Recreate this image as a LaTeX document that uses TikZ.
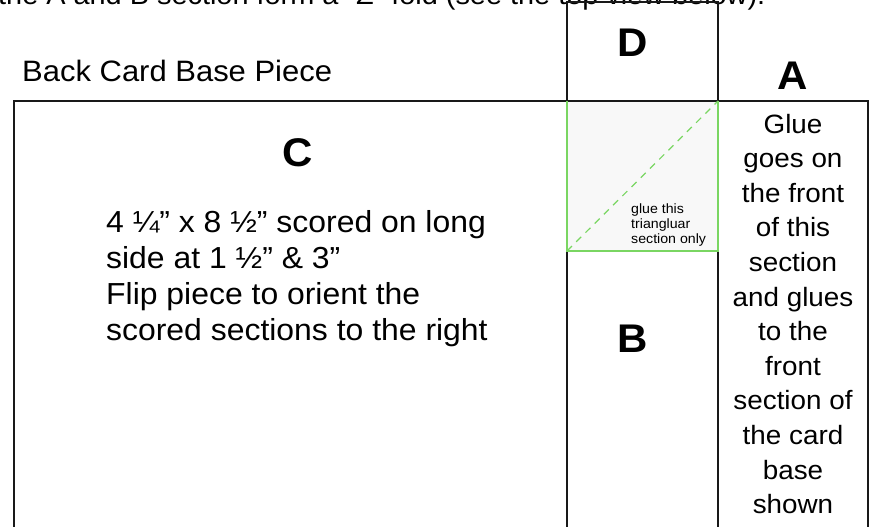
\documentclass[tikz,border=0pt]{standalone}
\usepackage{fontspec}
\setmainfont{Liberation Sans}[FakeStretch=1.05]
\definecolor{gluegreen}{RGB}{122,214,98}
\definecolor{gluefill}{RGB}{248,248,248}
\tikzset{
  edge/.style={draw=black!90, line width=1.3pt},
  greenedge/.style={draw=gluegreen, line width=1.6pt},
  greendash/.style={draw=gluegreen, line width=1.2pt, dash pattern=on 7pt off 6pt},
  bigletter/.style={font=\fontsize{40}{40}\selectfont\bfseries, inner sep=0pt, anchor=base},
  bodytxt/.style={font=\fontsize{29.5}{36}\selectfont, inner sep=0pt, anchor=base west},
  ctxt/.style={font=\fontsize{30.4}{36}\selectfont, inner sep=0pt, anchor=base west},
  toptxt/.style={font=\fontsize{27.5}{33}\selectfont, inner sep=0pt, anchor=base west},
  coltxt/.style={font=\fontsize{26.5}{34.6}\selectfont, inner sep=0pt, anchor=base},
  smalltxt/.style={font=\fontsize{13.5}{15}\selectfont, inner sep=0pt, anchor=base west},
}
\begin{document}
\begin{tikzpicture}[x=1pt,y=-1pt]
\useasboundingbox (0,0) rectangle (879,527);
\clip (0,0) rectangle (879,527);
\fill[white] (0,0) rectangle (879,527);
% top (cut off) sentence
\node[toptxt] (toptext) at (-2,5) {the A and B section form a “Z” fold (see the top view below).};
% glue area fill
\fill[gluefill] (567,101) rectangle (718,251);
% outlines
\draw[edge] (14,540) -- (14,101) -- (868,101) -- (868,540);
\draw[edge] (567,540) -- (567,2) -- (718,2) -- (718,540);
% green glue section
\draw[greenedge] (567,101) -- (567,251) -- (718,251) -- (718,101);
\draw[greendash] (567,251) -- (718,101);
% labels
\node[bodytxt] (title) at (22,82) {Back Card Base Piece};
\node[bigletter] (D) at (633,57) {D};
\node[bigletter] (A) at (793,90) {A};
\node[bigletter] (B) at (633,352) {B};
\node[bigletter] (C) at (298,166) {C};
\foreach \t [count=\i] in {4 ¼” x 8 ½” scored on long, side at 1 ½” \& 3”, Flip piece to orient the, scored sections to the right}
  \node[ctxt] (c\i) at (106,{232+36*(\i-1)}) {\t};
\foreach \t [count=\i] in {Glue, goes on, the front, of this, section, and glues, to the, front, section of, the card, base, shown}
  \node[coltxt] (a\i) at (793,{133+34.6*(\i-1)}) {\t};
\node[smalltxt] (g1) at (631,213) {glue this};
\node[smalltxt] (g2) at (631,228) {triangluar};
\node[smalltxt] (g3) at (631,243) {section only};
\end{tikzpicture}
\end{document}
